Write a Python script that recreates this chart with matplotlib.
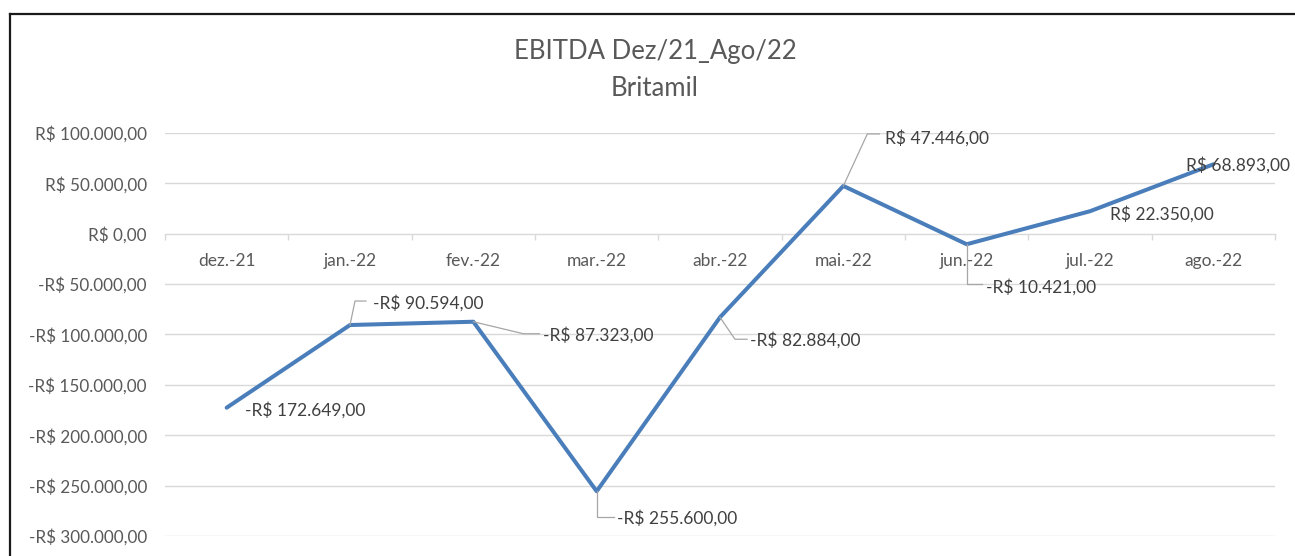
import matplotlib
matplotlib.use("Agg")
import matplotlib.pyplot as plt
from matplotlib.lines import Line2D
from matplotlib.transforms import IdentityTransform
import numpy as np

plt.rcParams['font.family'] = ['Lato', 'DejaVu Sans']

# ---- data ----
months = ["dez.-21", "jan.-22", "fev.-22", "mar.-22", "abr.-22",
          "mai.-22", "jun.-22", "jul.-22", "ago.-22"]
ebitda = [-172649, -90594, -87323, -255600, -82884,
          47446, -10421, 22350, 68893]
y_ticks = [-300000, -250000, -200000, -150000, -100000, -50000, 0, 50000, 100000]
title_line1 = "EBITDA Dez/21_Ago/22"
title_line2 = "Britamil"

# label placement (pixel offsets, image-down positive): text anchor and leader vertices
label_text_off = [(18, 2), (23, -22), (70, 13), (20, 27), (30, 23),
                  (42, -48), (19, 43), (20, 3), (-27, 1)]
label_leaders = [None,
                 [(0, 0), (5, -24), (16, -24)],
                 [(0, 0), (50, 12), (66, 12)],
                 [(0, 0), (0, 26), (17, 26)],
                 [(0, 0), (15, 22), (27, 22)],
                 [(0, 0), (24, -52), (36, -52)],
                 [(0, 0), (0, 40), (15, 40)],
                 None, None]


def brl(v):
    s = f"{abs(v):,.2f}".replace(",", "X").replace(".", ",").replace("X", ".")
    return ("-" if v < 0 else "") + "R$ " + s


W, H = 1295, 556
fig = plt.figure(figsize=(W / 100, H / 100), dpi=100)
fig.patch.set_facecolor("white")

# outer chart border (top and left visible)
fig.add_artist(Line2D([10 / W, 1.0], [1 - 14 / H, 1 - 14 / H], transform=fig.transFigure,
                      color="#1a1a1a", lw=1.6))
fig.add_artist(Line2D([10 / W, 10 / W], [0, 1 - 14 / H], transform=fig.transFigure,
                      color="#1a1a1a", lw=1.6))

ax = fig.add_axes([165 / W, 20 / H, 1110 / W, 403 / H])
x = np.arange(len(months))
ax.set_xlim(-0.5, len(months) - 0.5)
ax.set_ylim(y_ticks[0], y_ticks[-1])

grid_c = "#d9d9d9"
text_c = "#595959"
for yv in y_ticks:
    if yv != 0:
        ax.axhline(yv, color=grid_c, lw=1.0, zorder=0)

for s in ["top", "right", "left"]:
    ax.spines[s].set_visible(False)
ax.spines["bottom"].set_position(("data", 0))
ax.spines["bottom"].set_color(grid_c)
ax.spines["bottom"].set_linewidth(1.0)

ax.set_yticks(y_ticks)
ax.set_yticklabels([brl(v) for v in y_ticks], fontsize=12.3, color=text_c)
ax.tick_params(axis="y", length=0, pad=13)

ax.set_xticks(x)
ax.set_xticklabels(months, fontsize=12.5, color=text_c)
ax.set_xticks(np.arange(-0.5, len(months)), minor=True)
ax.tick_params(axis="x", which="major", length=0, pad=14)
ax.tick_params(axis="x", which="minor", length=4.5, color=grid_c, width=1.0, direction="out")

ax.plot(x, ebitda, color="#4A7EBB", lw=2.9, solid_joinstyle="round",
        solid_capstyle="round", zorder=3)

# title
fig.text(655 / W, 1 - 51 / H, title_line1, ha="center", va="center", fontsize=18.5, color=text_c)
fig.text(655 / W, 1 - 89 / H, title_line2, ha="center", va="center", fontsize=18.5, color=text_c)

# data labels with leader lines
for xi, yi, (tx, ty), leader in zip(x, ebitda, label_text_off, label_leaders):
    px, py = ax.transData.transform((xi, yi))
    if leader is not None:
        lx = [px + a for a, b in leader]
        ly = [py - b for a, b in leader]
        fig.add_artist(Line2D(lx, ly, transform=IdentityTransform(), color="#a6a6a6", lw=0.9,
                              zorder=4))
    ax.annotate(brl(yi), xy=(xi, yi), xytext=(tx, -ty), textcoords="offset pixels",
                ha="left", va="center", fontsize=12.5, color="#404040", zorder=5)

fig.savefig("out.png", dpi=100)
